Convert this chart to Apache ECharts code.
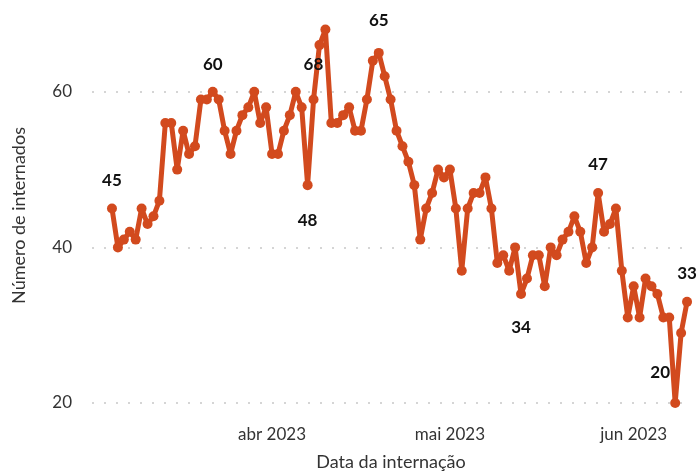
<!DOCTYPE html>
<html>
<head>
<meta charset="utf-8">
<script src="https://cdn.jsdelivr.net/npm/echarts@6/dist/echarts.min.js"></script>
<style>
  html, body { margin: 0; padding: 0; background: #fff; }
  #chart { width: 700px; height: 472px; }
</style>
</head>
<body>
<div id="chart"></div>
<script>
// daily counts, 5 Mar 2023 .. 10 Jun 2023 (x = days since start)
var startDate = '2023-03-05';
var internados = [
    45, 40, 41, 42, 41, 45, 43, 44, 46, 56, 56, 50, 55, 52, 53, 59, 59, 60, 59, 55,
    52, 55, 57, 58, 60, 56, 58, 52, 52, 55, 57, 60, 58, 48, 59, 66, 68, 56, 56, 57,
    58, 55, 55, 59, 64, 65, 62, 59, 55, 53, 51, 48, 41, 45, 47, 50, 49, 50, 45, 37,
    45, 47, 47, 49, 45, 38, 39, 37, 40, 34, 36, 39, 39, 35, 40, 39, 41, 42, 44, 42,
    38, 40, 47, 42, 43, 45, 37, 31, 35, 31, 36, 35, 34, 31, 31, 20, 29, 33
];
var yTicks = [20, 40, 60];
var monthTicks = ['2023-04-01', '2023-05-01', '2023-06-01'];
var monthNames = ['jan', 'fev', 'mar', 'abr', 'mai', 'jun', 'jul', 'ago', 'set', 'out', 'nov', 'dez'];
// indices of the points that carry a value label
var labelIdx = [0, 17, 33, 36, 45, 69, 82, 95, 97];

// label placement (style only)
var labelStyle = {
    0: { position: 'top', distance: 14 },
    17: { position: 'top', distance: 14 },
    33: { position: 'bottom', distance: 22 },
    36: { position: 'bottom', distance: 21, offset: [-12, 0] },
    45: { position: 'top', distance: 19 },
    69: { position: 'bottom', distance: 20 },
    82: { position: 'top', distance: 15 },
    95: { position: 'top', distance: 17, offset: [-15, 0] },
    97: { position: 'top', distance: 15 }
};

var DAY = 24 * 3600 * 1000;
var t0 = Date.UTC(2023, 2, 5);
function dayIndex(s) {
    var p = s.split('-');
    return Math.round((Date.UTC(+p[0], +p[1] - 1, +p[2]) - t0) / DAY);
}

var seriesData = [];
for (var i = 0; i < internados.length; i++) {
    var item = { value: [i, internados[i]] };
    if (labelIdx.indexOf(i) !== -1) {
        var s = labelStyle[i];
        item.label = {
            show: true,
            position: s.position,
            distance: s.distance,
            offset: s.offset || [0, 0]
        };
    }
    seriesData.push(item);
}

var font = 'Lato, "Open Sans", sans-serif';

var option = {
    animation: false,
    backgroundColor: '#fff',
    grid: { left: 92, right: 10, top: 28, bottom: 69, containLabel: false, outerBoundsMode: 'none' },
    xAxis: {
        type: 'value',
        min: -3.37,
        max: internados.length - 0.5,
        name: 'Data da internação',
        nameLocation: 'middle',
        nameGap: 50,
        nameTextStyle: { fontFamily: font, fontSize: 18, color: '#333' },
        axisLine: { show: false },
        axisTick: { show: false },
        splitLine: { show: false },
        axisLabel: {
            customValues: monthTicks.map(dayIndex),
            formatter: function (v) {
                var d = new Date(t0 + v * DAY);
                return monthNames[d.getUTCMonth()] + ' ' + d.getUTCFullYear();
            },
            margin: 23,
            fontFamily: font,
            fontSize: 17,
            color: '#333'
        }
    },
    yAxis: {
        type: 'value',
        min: 20,
        max: 68.2,
        interval: 20,
        name: 'Número de internados',
        nameLocation: 'middle',
        nameGap: 64,
        nameTextStyle: { fontFamily: font, fontSize: 18, color: '#333' },
        axisLine: { show: false },
        axisTick: { show: false },
        axisLabel: {
            margin: 20,
            fontFamily: font,
            fontSize: 17,
            color: '#333',
            showMaxLabel: false
        },
        splitLine: {
            show: true,
            showMaxLine: false,
            lineStyle: { color: '#c8c8c8', type: [2, 10], width: 1.5 }
        }
    },
    series: [{
        type: 'line',
        data: seriesData,
        clip: false,
        symbol: 'circle',
        symbolSize: 10,
        lineStyle: { color: '#D24A1E', width: 5 },
        itemStyle: { color: '#D24A1E' },
        label: {
            show: false,
            fontFamily: font,
            fontSize: 17,
            fontWeight: 'bold',
            color: '#111',
            formatter: function (p) { return p.value[1]; }
        }
    }]
};

var chart = echarts.init(document.getElementById('chart'));
chart.setOption(option);
</script>
</body>
</html>
